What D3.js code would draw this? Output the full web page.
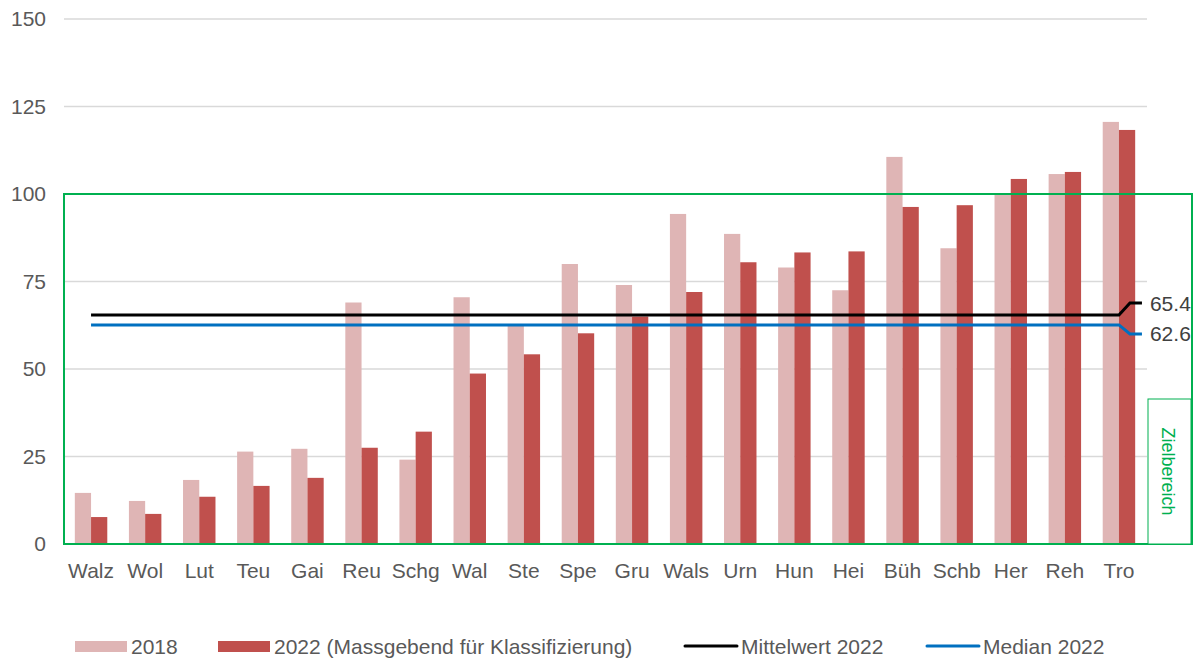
<!DOCTYPE html>
<html>
<head>
<meta charset="utf-8">
<script src="https://cdn.jsdelivr.net/npm/d3@7"></script>
<style>
  html, body { margin: 0; padding: 0; background: #fff; }
  svg { display: block; font-family: "Liberation Sans", Arial, sans-serif; }
</style>
</head>
<body>
<svg id="chart" width="1204" height="659"></svg>
<script>
// Gemeinden (abgekürzt), sortiert nach Wert 2022
const categories = ["Walz", "Wol", "Lut", "Teu", "Gai", "Reu", "Schg", "Wal", "Ste", "Spe",
                    "Gru", "Wals", "Urn", "Hun", "Hei", "Büh", "Schb", "Her", "Reh", "Tro"];
const values2018 = [14.6, 12.3, 18.3, 26.4, 27.2, 69.0, 24.1, 70.5, 62.5, 80.0,
                    74.0, 94.3, 88.6, 79.0, 72.5, 110.6, 84.5, 99.8, 105.7, 120.6];
const values2022 = [7.7, 8.6, 13.5, 16.6, 18.9, 27.5, 32.1, 48.7, 54.2, 60.2,
                    65.0, 72.0, 80.5, 83.3, 83.6, 96.3, 96.8, 104.3, 106.3, 118.3];
const mean2022 = 65.4;
const median2022 = 62.6;
const yTicks = [0, 25, 50, 75, 100, 125, 150];
const targetRange = [0, 100];   // Zielbereich

const legendItems = [
  { label: "2018", type: "rect", color: "#dfb5b5" },
  { label: "2022 (Massgebend für Klassifizierung)", type: "rect", color: "#c0504d" },
  { label: "Mittelwert 2022", type: "line", color: "#000000" },
  { label: "Median 2022", type: "line", color: "#0070c0" }
];

const svg = d3.select("#chart");
const textColor = "#595959";
const green = "#00b050";
const fontSize = 21;

const x = d3.scaleBand().domain(categories).range([64, 1146]).paddingInner(0).paddingOuter(0);
const y = d3.scaleLinear().domain([0, 150]).range([544, 19]);
const barW = x.bandwidth() * 0.3;

// Gitterlinien
svg.append("g").selectAll("line").data(yTicks.filter(d => d > 0)).join("line")
  .attr("x1", 64).attr("x2", 1147)
  .attr("y1", d => y(d)).attr("y2", d => y(d))
  .attr("stroke", "#d9d9d9").attr("stroke-width", 1.5);

// Y-Achse (nur Beschriftung)
const yAxis = svg.append("g").attr("transform", "translate(46,0)")
  .call(d3.axisLeft(y).tickValues(yTicks).tickSize(0).tickPadding(0));
yAxis.select(".domain").remove();
yAxis.selectAll("text").attr("fill", textColor).attr("font-size", fontSize)
  .attr("font-family", "Liberation Sans, Arial, sans-serif");

// X-Achse (nur Beschriftung)
const xAxis = svg.append("g").attr("transform", "translate(0,544)")
  .call(d3.axisBottom(x).tickSize(0).tickPadding(19));
xAxis.select(".domain").remove();
xAxis.selectAll("text").attr("fill", textColor).attr("font-size", fontSize)
  .attr("font-family", "Liberation Sans, Arial, sans-serif");

// Balken
const groups = svg.append("g").selectAll("g").data(categories).join("g");
groups.append("rect")
  .attr("x", (d) => x(d) + x.bandwidth() / 2 - barW)
  .attr("width", barW)
  .attr("y", (d, i) => y(values2018[i]))
  .attr("height", (d, i) => y(0) - y(values2018[i]))
  .attr("fill", "#dfb5b5");
groups.append("rect")
  .attr("x", (d) => x(d) + x.bandwidth() / 2)
  .attr("width", barW)
  .attr("y", (d, i) => y(values2022[i]))
  .attr("height", (d, i) => y(0) - y(values2022[i]))
  .attr("fill", "#c0504d");

// Zielbereich-Rahmen
svg.append("rect")
  .attr("x", 64).attr("y", y(targetRange[1]))
  .attr("width", 1192 - 64).attr("height", y(targetRange[0]) - y(targetRange[1]))
  .attr("fill", "none").attr("stroke", green).attr("stroke-width", 2);
svg.append("rect")
  .attr("x", 1148).attr("y", 399)
  .attr("width", 43).attr("height", y(0) - 399)
  .attr("fill", "#fff").attr("stroke", green).attr("stroke-width", 1);
svg.append("text")
  .attr("transform", `translate(1162,${(399 + y(0)) / 2}) rotate(90)`)
  .attr("text-anchor", "middle")
  .attr("fill", green).attr("font-size", 18)
  .text("Zielbereich");

// Mittelwert- und Medianlinien mit Beschriftung
const xFirst = x(categories[0]) + x.bandwidth() / 2;
const xLast = x(categories[categories.length - 1]) + x.bandwidth() / 2;
const refLines = [
  { value: mean2022, color: "#000000", dy: -12 },
  { value: median2022, color: "#0070c0", dy: 9 }
];
refLines.forEach(r => {
  const yy = y(r.value);
  svg.append("path")
    .attr("d", `M${xFirst},${yy} L${xLast},${yy} L${xLast + 11},${yy + r.dy} L${xLast + 23},${yy + r.dy}`)
    .attr("fill", "none").attr("stroke", r.color).attr("stroke-width", 3);
  svg.append("text")
    .attr("x", xLast + 31).attr("y", yy + r.dy)
    .attr("dy", "0.36em")
    .attr("fill", "#404040").attr("font-size", fontSize)
    .text(r.value.toFixed(1));
});

// Legende
const legendPos = [75, 218, 685, 927];
const legend = svg.append("g");
legendItems.forEach((item, i) => {
  const lx = legendPos[i];
  const ly = 646;
  if (item.type === "rect") {
    legend.append("rect").attr("x", lx).attr("y", ly - 5).attr("width", 52).attr("height", 11)
      .attr("fill", item.color);
  } else {
    legend.append("line").attr("x1", lx).attr("x2", lx + 52).attr("y1", ly).attr("y2", ly)
      .attr("stroke", item.color).attr("stroke-width", 3).attr("stroke-linecap", "round");
  }
  legend.append("text")
    .attr("x", lx + 56).attr("y", ly)
    .attr("dy", "0.36em")
    .attr("fill", textColor).attr("font-size", fontSize)
    .text(item.label);
});
</script>
</body>
</html>
